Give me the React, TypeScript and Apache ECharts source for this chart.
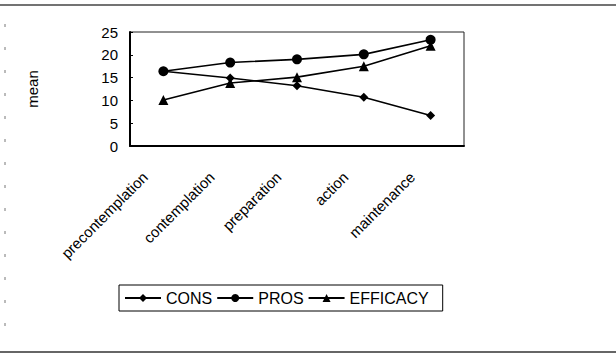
import React, { useEffect, useRef } from "react";
import * as echarts from "echarts";

const categories = ["precontemplation", "contemplation", "preparation", "action", "maintenance"];
const consValues = [16.4, 14.9, 13.2, 10.7, 6.7];
const prosValues = [16.4, 18.3, 19.0, 20.1, 23.3];
const efficacyValues = [10.1, 13.8, 15.1, 17.5, 22.0];
const yTicks = { min: 0, max: 25, interval: 5 };

const FONT = "'Liberation Sans', Arial, sans-serif";

export default function App() {
  const ref = useRef<HTMLDivElement>(null);
  useEffect(() => {
    if (!ref.current) return;
    const chart = echarts.init(ref.current, undefined, { renderer: "svg" });
    const lineStyle = { color: "#000", width: 1.6 };
    chart.setOption({
      animation: false,
      backgroundColor: "#fff",
      textStyle: { fontFamily: FONT, color: "#000" },
      grid: {
        left: 130,
        right: 152,
        top: 32,
        bottom: 210,
        show: true,
        borderColor: "#222",
        borderWidth: 1,
        backgroundColor: "transparent",
      },
      legend: {
        left: 119,
        top: 285,
        orient: "horizontal",
        padding: [5, 14, 5, 5],
        itemWidth: 36,
        itemHeight: 10,
        itemGap: 4,
        borderColor: "#000",
        borderWidth: 1,
        textStyle: { fontFamily: FONT, fontSize: 16, color: "#000" },
        data: ["CONS", "PROS", "EFFICACY"],
      },
      xAxis: {
        type: "category",
        data: categories,
        boundaryGap: true,
        axisLine: { show: true, lineStyle: { color: "#000", width: 2 } },
        axisTick: { show: false },
        splitLine: { show: false },
        axisLabel: {
          interval: 0,
          rotate: 45,
          margin: 10,
          padding: [0, 26, 0, 0],
          fontFamily: FONT,
          fontSize: 15,
          color: "#000",
        },
      },
      yAxis: {
        type: "value",
        min: yTicks.min,
        max: yTicks.max,
        interval: yTicks.interval,
        name: "mean",
        nameLocation: "middle",
        nameGap: 90,
        nameTextStyle: { fontFamily: FONT, fontSize: 15, color: "#000" },
        axisLine: { show: true, lineStyle: { color: "#000", width: 2 } },
        axisTick: { show: true, inside: true, length: 3, lineStyle: { color: "#000" } },
        splitLine: { show: false },
        axisLabel: { margin: 12, fontFamily: FONT, fontSize: 15, color: "#000" },
      },
      series: [
        {
          name: "CONS",
          type: "line",
          data: consValues,
          symbol: "diamond",
          symbolSize: 9,
          lineStyle,
          itemStyle: { color: "#000" },
        },
        {
          name: "PROS",
          type: "line",
          data: prosValues,
          symbol: "circle",
          symbolSize: 10,
          lineStyle,
          itemStyle: { color: "#000" },
        },
        {
          name: "EFFICACY",
          type: "line",
          data: efficacyValues,
          symbol: "triangle",
          symbolSize: 10,
          lineStyle,
          itemStyle: { color: "#000" },
        },
      ],
      graphic: [
        {
          type: "line",
          shape: { x1: 0, y1: 5, x2: 616, y2: 5 },
          style: { stroke: "#444", lineWidth: 1.5 },
        },
        {
          type: "line",
          shape: { x1: 0, y1: 352, x2: 616, y2: 352 },
          style: { stroke: "#333", lineWidth: 1.5 },
        },
        {
          type: "line",
          shape: { x1: 5, y1: 24, x2: 5, y2: 340 },
          style: { stroke: "#777", lineWidth: 1, lineDash: [3, 20] },
        },
      ],
    });
    return () => chart.dispose();
  }, []);
  return (
    <div
      ref={ref}
      style={{ position: "absolute", left: 0, top: 0, width: 616, height: 356 }}
    />
  );
}
